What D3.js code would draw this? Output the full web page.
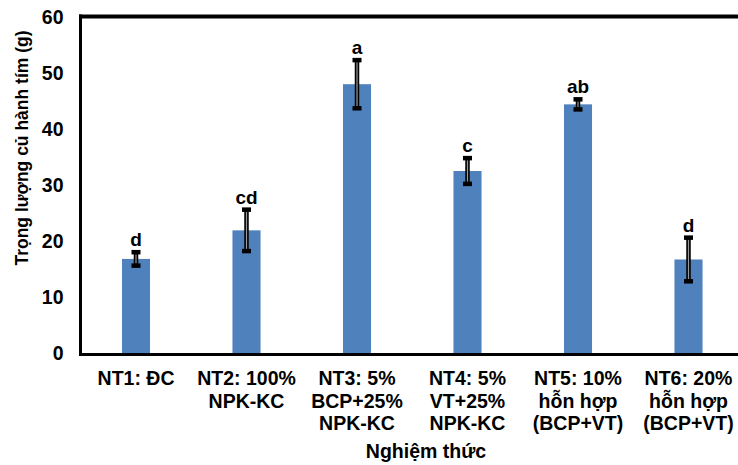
<!DOCTYPE html>
<html><head><meta charset="utf-8">
<script src="https://cdn.jsdelivr.net/npm/d3@7"></script>
<style>
html,body{margin:0;padding:0;background:#fff;}
svg{display:block;font-family:"Liberation Sans",Arial,sans-serif;font-weight:bold;}
</style></head>
<body><svg id="c" width="738" height="465"></svg>
<script>
const categories = ["NT1","NT2","NT3","NT4","NT5","NT6"];
const labelLines = [
  ["NT1: ĐC"],
  ["NT2: 100%","NPK-KC"],
  ["NT3: 5%","BCP+25%","NPK-KC"],
  ["NT4: 5%","VT+25%","NPK-KC"],
  ["NT5: 10%","hỗn hợp","(BCP+VT)"],
  ["NT6: 20%","hỗn hợp","(BCP+VT)"]
];
const values = [16.8, 21.9, 48.0, 32.5, 44.4, 16.7];
const errors = [1.2, 3.7, 4.3, 2.3, 0.9, 3.9];
const letters = ["d","cd","a","c","ab","d"];
const yTicks = [0,10,20,30,40,50,60];
const yTitle = "Trọng lượng củ hành tím (g)";
const xTitle = "Nghiệm thức";

const svg = d3.select("#c");
const x = d3.scaleBand().domain(categories).range([80.75, 743.75]).paddingInner(0.746).paddingOuter(0.373);
const y = d3.scaleLinear().domain([0, 60]).range([353, 17]);

// bars
svg.selectAll("rect.bar").data(values).join("rect")
  .attr("class","bar")
  .attr("x",(d,i)=>x(categories[i]))
  .attr("width",x.bandwidth())
  .attr("y",d=>y(d))
  .attr("height",d=>y(0)-y(d))
  .attr("fill","#4F81BD");

// error bars
const eg = svg.selectAll("g.err").data(values).join("g").attr("class","err")
  .attr("transform",(d,i)=>`translate(${x(categories[i])+x.bandwidth()/2},0)`);
eg.append("line").attr("x1",0).attr("x2",0)
  .attr("y1",(d,i)=>y(d+errors[i])).attr("y2",(d,i)=>y(d-errors[i]))
  .attr("stroke","#000").attr("stroke-width",4.5);
eg.append("line").attr("x1",0).attr("x2",0)
  .attr("y1",(d,i)=>y(d+errors[i])+2).attr("y2",(d,i)=>y(d-errors[i])-2)
  .attr("stroke","#9a9a9a").attr("stroke-width",1.2);
eg.append("rect").attr("x",-4.5).attr("width",9).attr("height",4.5)
  .attr("y",(d,i)=>y(d+errors[i])-2.25).attr("fill","#000");
eg.append("rect").attr("x",-4.5).attr("width",9).attr("height",4.5)
  .attr("y",(d,i)=>y(d-errors[i])-2.25).attr("fill","#000");
eg.append("text").attr("text-anchor","middle")
  .attr("y",(d,i)=>y(d+errors[i])-6)
  .attr("font-size",19).attr("fill","#000")
  .text((d,i)=>letters[i]);

// axes frame
const yAxis = d3.axisLeft(y).tickValues(yTicks).tickSize(0).tickPadding(17);
const ga = svg.append("g").attr("transform","translate(80.5,0)").call(yAxis);
ga.select(".domain").remove();
ga.selectAll("text").attr("font-size",19.5).attr("font-family","Liberation Sans, Arial, sans-serif").attr("font-weight","bold").attr("fill","#000");

svg.append("line").attr("x1",80.5).attr("x2",80.5).attr("y1",y(60)-2.5).attr("y2",y(0)+3)
  .attr("stroke","#000").attr("stroke-width",3);
svg.append("line").attr("x1",79).attr("x2",738).attr("y1",y(60)-0.5).attr("y2",y(60)-0.5)
  .attr("stroke","#000").attr("stroke-width",4);
svg.append("line").attr("x1",79).attr("x2",738).attr("y1",y(0)+1.5).attr("y2",y(0)+1.5)
  .attr("stroke","#000").attr("stroke-width",3);

// x labels
const xl = svg.selectAll("text.xl").data(labelLines).join("text").attr("class","xl")
  .attr("text-anchor","middle").attr("font-size",19.5).attr("fill","#000")
  .attr("transform",(d,i)=>`translate(${x(categories[i])+x.bandwidth()/2},385)`);
xl.selectAll("tspan").data(d=>d).join("tspan").attr("x",0).attr("y",(d,j)=>j*22.5).text(d=>d);

// titles
svg.append("text").attr("x",426).attr("y",458).attr("text-anchor","middle")
  .attr("font-size",19.5).attr("fill","#000").text(xTitle);
svg.append("text").attr("transform","translate(28,148) rotate(-90)").attr("text-anchor","middle")
  .attr("font-size",17.5).attr("fill","#000").text(yTitle);
</script></body></html>
